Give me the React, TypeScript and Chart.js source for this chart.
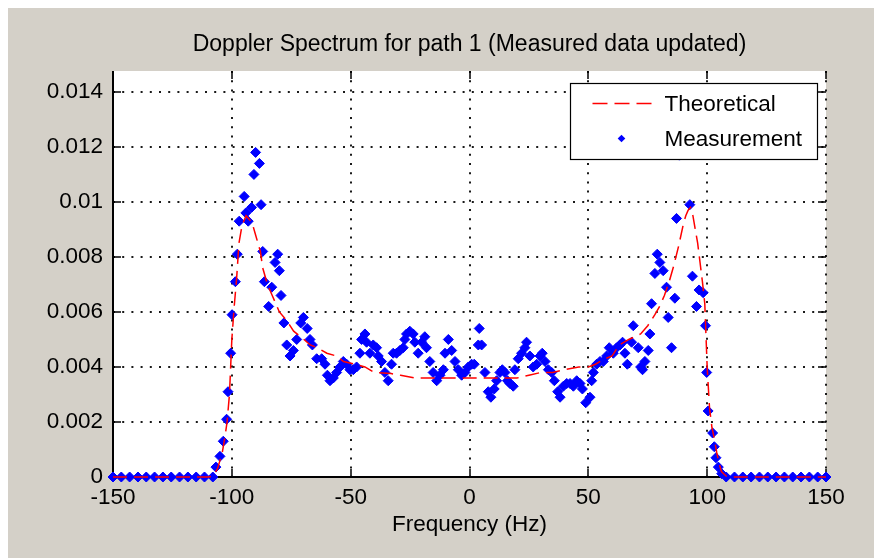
import React, { useEffect, useRef } from 'react';
import { Chart, registerables } from 'chart.js';

Chart.register(...registerables);

const chartTitle = 'Doppler Spectrum for path 1 (Measured data updated)';
const xAxisLabel = 'Frequency (Hz)';
const legendLabels = ['Theoretical', 'Measurement'];

const xMin = -150;
const xMax = 150;
const yMin = 0;
const yMax = 0.01476;

const xTickValues = [-150, -100, -50, 0, 50, 100, 150];
const xTickLabels = ['-150', '-100', '-50', '0', '50', '100', '150'];
const yTickValues = [0, 0.002, 0.004, 0.006, 0.008, 0.01, 0.012, 0.014];
const yTickLabels = ['0', '0.002', '0.004', '0.006', '0.008', '0.01', '0.012', '0.014'];

const theoryFreq = [
  -150, -110, -108, -106, -104, -103, -102, -101, -100, -99,
  -98, -97, -96, -95, -94, -93, -92, -91, -90, -89,
  -88, -87, -85, -83, -80, -77, -74, -71, -67, -64,
  -60, -56, -53, -48, -44, -40, -33, -29, -23, -19,
  -10, 0, 10, 20, 25, 30, 35, 40, 46, 50,
  53, 57, 60, 63, 67, 72, 75, 78, 80, 82,
  84, 86, 88, 90, 91, 92, 93, 94, 95, 96,
  97, 98, 99, 100, 101, 102, 103, 104, 105, 106,
  108, 110, 150,
];
const theoryValue = [
  0, 0, 0.00003, 0.0003, 0.0009, 0.0014, 0.002, 0.003, 0.005, 0.0062,
  0.0072, 0.0085, 0.009, 0.0093, 0.0095, 0.0094, 0.0093, 0.0091, 0.0088, 0.0085,
  0.0082, 0.0076, 0.007, 0.0066, 0.006, 0.0057, 0.0053, 0.0051, 0.0048, 0.0047,
  0.0045, 0.0044, 0.0042, 0.0041, 0.004, 0.0038, 0.00376, 0.0037, 0.0036, 0.0036,
  0.0036, 0.0036, 0.0036, 0.0036, 0.0037, 0.0038, 0.0038, 0.0039, 0.004, 0.004,
  0.0041, 0.0043, 0.0044, 0.0048, 0.005, 0.0052, 0.0055, 0.0059, 0.0062, 0.0066,
  0.0071, 0.0077, 0.0084, 0.0092, 0.0095, 0.0097, 0.0098, 0.0095, 0.009, 0.0085,
  0.0078, 0.0071, 0.0063, 0.004, 0.0025, 0.0018, 0.0014, 0.0009, 0.0005, 0.0002,
  0.00003, 0, 0,
];

const measFreq = [
  -150, -146.5, -143, -139.5, -136, -132.5, -129, -125.5, -122, -118.5, -115, -111.5, -108,
  -106.7, -105.0, -103.6, -102.2, -101.6, -100.5, -99.9, -98.5, -97.7, -96.9,
  -94.8, -94.1, -93.1, -91.7, -90.7, -90.0, -88.4, -87.7, -87.0, -86.3,
  -84.5, -83.2, -81.8, -80.7, -80.0, -79.3, -78.1, -76.9, -75.5, -74.1,
  -72.7, -71.0, -69.9, -68.3, -67.1, -66.1, -64.3, -62.2, -60.8, -59.8,
  -58.7, -57.3, -55.9, -54.5, -53.1, -51.7, -50.3, -48.9, -47.5, -46.1,
  -45.4, -44.0, -43.3, -41.9, -40.5, -39.1, -38.4, -37.0, -35.6, -34.2,
  -32.8, -32.1, -30.7, -29.3, -27.9, -27.2, -26.5, -25.1, -23.7, -23.0,
  -21.6, -20.1, -18.8, -18.1, -16.7, -15.3, -13.8, -12.4, -11.0, -10.3,
  -8.9, -7.5, -6.1, -4.7, -3.3, -1.9, -0.5, 0.9, 2.0, 3.7,
  4.1, 5.1, 6.5, 7.9, 9.0, 10.4, 11.4, 12.8, 13.8, 14.9,
  16.0, 17.0, 18.4, 19.1, 20.5, 21.9, 23.3, 24.0, 25.4, 26.8,
  28.3, 29.7, 30.6, 31.8, 33.2, 34.6, 35.7, 37.1, 38.1, 39.5,
  40.9, 42.3, 43.7, 45.1, 46.5, 47.5, 48.9, 50.7, 51.4, 52.1,
  53.5, 54.9, 56.3, 57.7, 58.8, 60.5, 61.9, 63.3, 64.4, 65.4,
  66.4, 68.2, 68.9, 71.0, 72.0, 72.8, 73.8, 75.2, 75.9, 76.6,
  78.0, 79.0, 80.1, 81.5, 82.9, 83.6, 85.0, 86.4, 87.1, 88.3,
  92.7, 93.8, 95.5, 96.6, 98.3, 99.3, 99.8, 100.4, 102.3, 103.0,
  103.7, 104.7, 106.1,
  108, 111.5, 115, 118.5, 122, 125.5, 129, 132.5, 136, 139.5, 143, 146.5, 150,
];
const measValue = [
  0, 0, 0, 0, 0, 0, 0, 0, 0, 0, 0, 0, 0,
  0.00036, 0.00075, 0.0013, 0.0021, 0.0031, 0.0045, 0.0059, 0.0071, 0.0081, 0.0093,
  0.0102, 0.0096, 0.0093, 0.0098, 0.011, 0.0118, 0.0114, 0.0099, 0.0082, 0.0071,
  0.0062, 0.0069, 0.0078, 0.0081, 0.0075, 0.0066, 0.0056, 0.0048, 0.0044, 0.0046,
  0.005, 0.0056, 0.0058, 0.0054, 0.005, 0.0048, 0.0043, 0.0043, 0.0041, 0.0037,
  0.0035, 0.0036, 0.0038, 0.004, 0.0042, 0.0041, 0.0039, 0.0039, 0.004, 0.0045,
  0.005, 0.0052, 0.0049, 0.0045, 0.0048, 0.0047, 0.0044, 0.0042, 0.0038, 0.0035,
  0.0041, 0.0045, 0.0045, 0.0046, 0.0047, 0.005, 0.0052, 0.0053, 0.0052, 0.0049,
  0.0045, 0.0049, 0.0051, 0.0047, 0.0042, 0.0038, 0.0035, 0.0037, 0.0039, 0.0045,
  0.005, 0.0046, 0.0042, 0.0039, 0.0037, 0.0038, 0.004, 0.0041, 0.0041, 0.0048,
  0.0054, 0.0048, 0.0038, 0.0031, 0.0029, 0.0032, 0.0035, 0.0038, 0.0039, 0.0038,
  0.0035, 0.0034, 0.0033, 0.0039, 0.0043, 0.0045, 0.0047, 0.0049, 0.0044, 0.004,
  0.0041, 0.0044, 0.0045, 0.0042, 0.0039, 0.0038, 0.0035, 0.0031, 0.0029, 0.0033,
  0.0034, 0.0034, 0.0033, 0.0035, 0.0034, 0.0032, 0.0027, 0.0029, 0.0035, 0.0038,
  0.0041, 0.0042, 0.0042, 0.0044, 0.0047, 0.0045, 0.0047, 0.0048, 0.0049, 0.0045,
  0.0041, 0.0049, 0.0055, 0.0047, 0.004, 0.0039, 0.0042, 0.0046, 0.0052, 0.0063,
  0.0074, 0.0081, 0.0078, 0.0075, 0.0069, 0.0058, 0.0047, 0.0065, 0.0094, 0.0117,
  0.0099, 0.0073, 0.0062, 0.0068, 0.0067, 0.0055, 0.0038, 0.0024, 0.0016, 0.0011,
  0.0007, 0.00036, 0.00012,
  0, 0, 0, 0, 0, 0, 0, 0, 0, 0, 0, 0, 0,
];

const FONT = '"Liberation Sans", Arial, Helvetica, sans-serif';
const RED = '#ff0000';
const BLUE = '#0000ff';

const matlabAxesPlugin = {
  id: 'matlabAxes',
  beforeDraw(chart: any) {
    const { ctx, chartArea: a } = chart;
    ctx.save();
    ctx.fillStyle = '#ffffff';
    ctx.fillRect(a.left, a.top, a.right - a.left, a.bottom - a.top);
    ctx.restore();
  },
  beforeDatasetsDraw(chart: any) {
    const { ctx, chartArea: a, scales } = chart;
    const xs = scales.x;
    const ys = scales.y;
    const line = (x1: number, y1: number, x2: number, y2: number) => {
      ctx.beginPath();
      ctx.moveTo(x1, y1);
      ctx.lineTo(x2, y2);
      ctx.stroke();
    };
    ctx.save();
    // dotted grid
    ctx.strokeStyle = '#1a1a1a';
    ctx.lineWidth = 2;
    ctx.setLineDash([2, 7.2]);
    xTickValues.forEach((v) => {
      if (v === xMin) return;
      const px = Math.round(xs.getPixelForValue(v));
      line(px, a.top, px, a.bottom);
    });
    yTickValues.forEach((v) => {
      if (v === yMin) return;
      const py = Math.round(ys.getPixelForValue(v));
      line(a.left, py, a.right, py);
    });
    ctx.setLineDash([]);
    // inward tick marks
    ctx.strokeStyle = '#000000';
    ctx.lineWidth = 1.5;
    const tl = 8;
    xTickValues.forEach((v) => {
      const px = Math.round(xs.getPixelForValue(v));
      line(px, a.bottom, px, a.bottom - tl);
      line(px, a.top, px, a.top + tl);
    });
    yTickValues.forEach((v) => {
      const py = Math.round(ys.getPixelForValue(v));
      line(a.left, py, a.left + tl, py);
      line(a.right, py, a.right - tl, py);
    });
    // solid axes (left, bottom)
    ctx.lineWidth = 2;
    const l = Math.round(a.left);
    const b = Math.round(a.bottom);
    line(l, a.top, l, b + 1);
    line(l - 1, b, a.right + 1, b);
    ctx.restore();
  },
  afterDatasetsDraw(chart: any) {
    const { ctx, chartArea: a } = chart;
    const W = 247;
    const H = 76;
    const L = Math.round(a.right - 9 - W) + 0.5;
    const T = Math.round(a.top + 12) + 0.5;
    ctx.save();
    ctx.fillStyle = '#ffffff';
    ctx.fillRect(L, T, W, H);
    ctx.strokeStyle = '#000000';
    ctx.lineWidth = 1.2;
    ctx.strokeRect(L, T, W, H);
    // entry 1: dashed red line
    ctx.strokeStyle = RED;
    ctx.lineWidth = 1.5;
    ctx.setLineDash([15, 7]);
    ctx.beginPath();
    ctx.moveTo(L + 22, T + 20);
    ctx.lineTo(L + 88, T + 20);
    ctx.stroke();
    ctx.setLineDash([]);
    // entry 2: blue diamond
    const dx = L + 51;
    const dy = T + 55;
    const r = 3.8;
    ctx.fillStyle = BLUE;
    ctx.beginPath();
    ctx.moveTo(dx - r, dy);
    ctx.lineTo(dx, dy - r);
    ctx.lineTo(dx + r, dy);
    ctx.lineTo(dx, dy + r);
    ctx.closePath();
    ctx.fill();
    // labels
    ctx.fillStyle = '#000000';
    ctx.font = `22.5px ${FONT}`;
    ctx.textAlign = 'left';
    ctx.textBaseline = 'middle';
    ctx.fillText(legendLabels[0], L + 94, T + 21);
    ctx.fillText(legendLabels[1], L + 94, T + 56);
    ctx.restore();
  },
};

export default function App() {
  const canvasRef = useRef<HTMLCanvasElement | null>(null);

  useEffect(() => {
    const canvas = canvasRef.current;
    if (!canvas) return;
    const theoryData = theoryFreq.map((f, i) => ({ x: f, y: theoryValue[i] }));
    const measData = measFreq.map((f, i) => ({ x: f, y: measValue[i] }));

    const chart = new Chart(canvas, {
      type: 'scatter',
      data: {
        datasets: [
          {
            label: legendLabels[0],
            data: theoryData,
            showLine: true,
            borderColor: RED,
            borderWidth: 1.5,
            borderDash: [14, 7],
            pointRadius: 0,
            fill: false,
            tension: 0,
            clip: false,
          } as any,
          {
            label: legendLabels[1],
            data: measData,
            showLine: false,
            pointStyle: 'rectRot',
            pointRadius: 5,
            backgroundColor: BLUE,
            borderColor: BLUE,
            borderWidth: 1,
            clip: false,
          } as any,
        ],
      },
      options: {
        responsive: false,
        animation: false,
        devicePixelRatio: 1,
        events: [],
        layout: { padding: { left: 0, right: 48, top: 0, bottom: 0 } },
        plugins: {
          legend: { display: false },
          tooltip: { enabled: false },
          title: {
            display: true,
            text: chartTitle,
            fullSize: false,
            color: '#000000',
            font: { family: FONT, size: 23, weight: 'normal' },
            padding: { top: 22.7, bottom: 12.7 },
          },
        },
        scales: {
          x: {
            type: 'linear',
            min: xMin,
            max: xMax,
            grid: { display: false, drawTicks: false },
            border: { display: false },
            afterBuildTicks: (s: any) => {
              s.ticks = xTickValues.map((v) => ({ value: v }));
            },
            afterFit: (s: any) => {
              s.height = 81;
            },
            ticks: {
              color: '#000000',
              font: { family: FONT, size: 22.5 },
              padding: 7,
              maxRotation: 0,
              minRotation: 0,
              autoSkip: false,
              callback: (v: any) => xTickLabels[xTickValues.indexOf(Number(v))] ?? '',
            },
            title: {
              display: true,
              text: xAxisLabel,
              color: '#000000',
              font: { family: FONT, size: 22.5 },
              padding: { top: 0, bottom: 19.5 },
            },
          },
          y: {
            type: 'linear',
            min: yMin,
            max: yMax,
            grid: { display: false, drawTicks: false },
            border: { display: false },
            afterBuildTicks: (s: any) => {
              s.ticks = yTickValues.map((v) => ({ value: v }));
            },
            afterFit: (s: any) => {
              s.width = 105;
            },
            ticks: {
              color: '#000000',
              font: { family: FONT, size: 22.5 },
              padding: 10,
              autoSkip: false,
              callback: (v: any) => {
                const idx = yTickValues.findIndex((t) => Math.abs(t - Number(v)) < 1e-9);
                return idx >= 0 ? yTickLabels[idx] : '';
              },
            },
          },
        },
      } as any,
      plugins: [matlabAxesPlugin],
    });

    return () => {
      chart.destroy();
    };
  }, []);

  return (
    <div
      style={{
        position: 'absolute',
        left: 8,
        top: 8,
        right: 0,
        bottom: 0,
        background: '#d4d0c8',
        overflow: 'hidden',
      }}
    >
      <canvas ref={canvasRef} width={866} height={550} style={{ display: 'block', width: 866, height: 550 }} />
    </div>
  );
}
